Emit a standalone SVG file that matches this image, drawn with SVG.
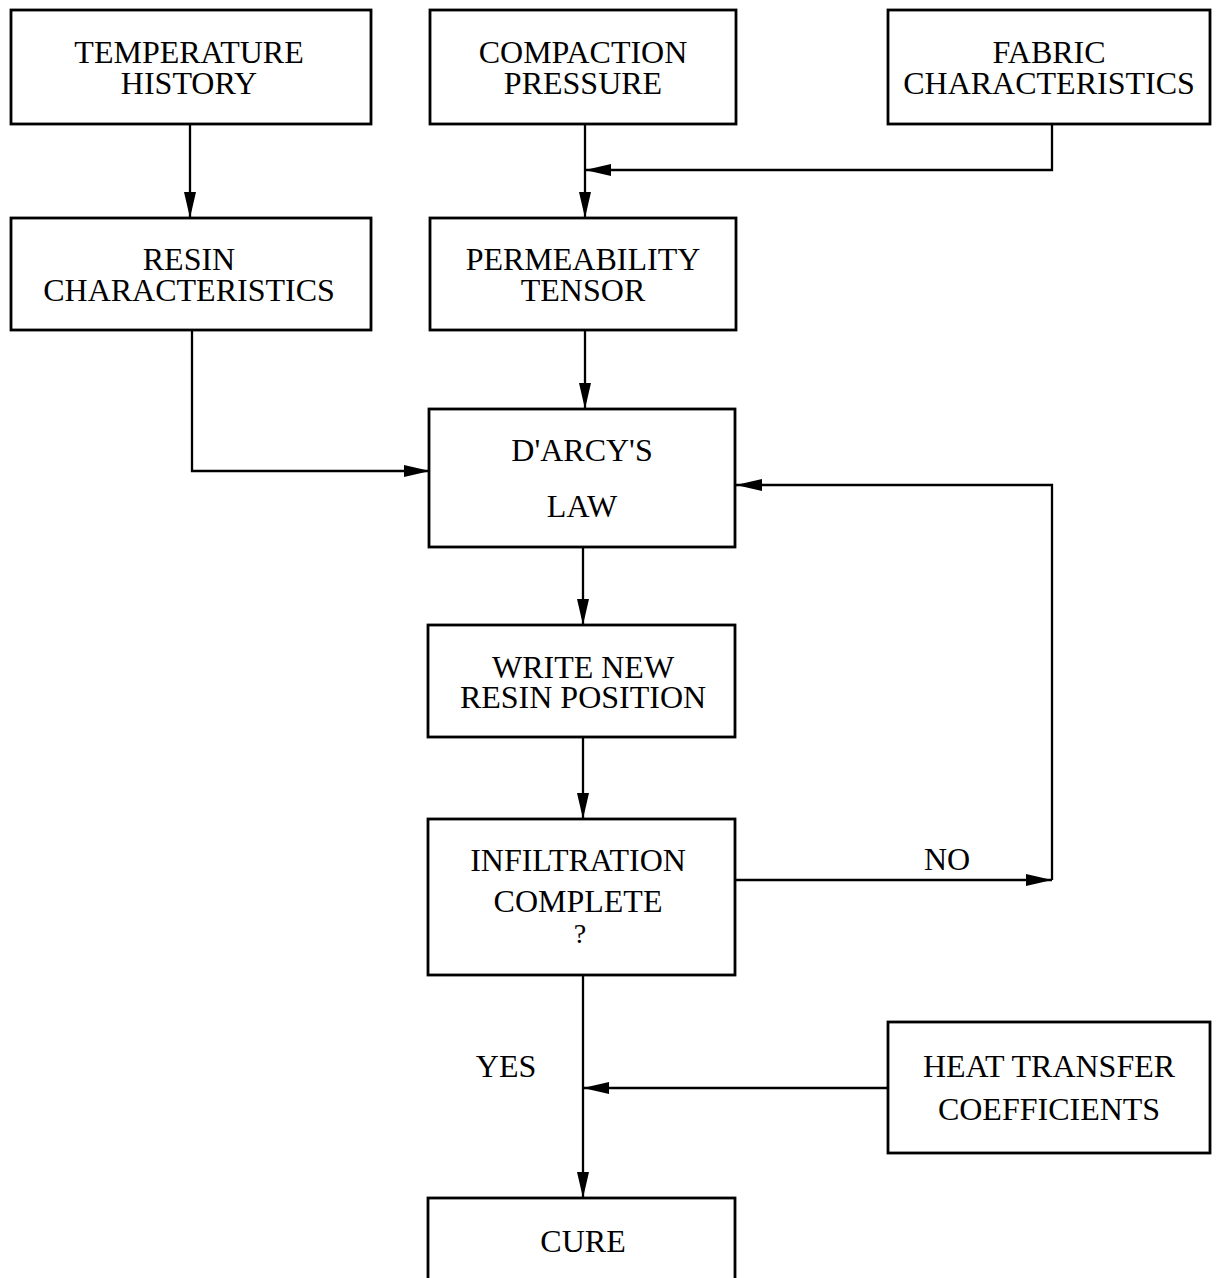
<svg xmlns="http://www.w3.org/2000/svg" width="1221" height="1278" viewBox="0 0 1221 1278">
<defs>
<style>
.box{fill:#fff;stroke:#000;stroke-width:2.8}
.t{font-family:"Liberation Serif","Times New Roman",serif;font-size:32px;fill:#000;text-anchor:middle}
.c{fill:none;stroke:#000;stroke-width:2.3}
</style>
<marker id="ah" viewBox="0 0 26 12" refX="26" refY="6" markerWidth="26" markerHeight="12" markerUnits="userSpaceOnUse" orient="auto">
<path d="M0,0 L26,6 L0,12 Z" fill="#000"/>
</marker>
</defs>
<rect width="1221" height="1278" fill="#fff"/>
<g id="connectors">
<path class="c" d="M190,124 V218" marker-end="url(#ah)"/>
<path class="c" d="M585,124 V218" marker-end="url(#ah)"/>
<path class="c" d="M1052,124 V170 H585" marker-end="url(#ah)"/>
<path class="c" d="M585,330 V409" marker-end="url(#ah)"/>
<path class="c" d="M192,330 V471 H430" marker-end="url(#ah)"/>
<path class="c" d="M583,548 V625" marker-end="url(#ah)"/>
<path class="c" d="M583,737 V819" marker-end="url(#ah)"/>
<path class="c" d="M734,880 H1052" marker-end="url(#ah)"/>
<path class="c" d="M1052,880 V485 H736" marker-end="url(#ah)"/>
<path class="c" d="M583,975 V1198" marker-end="url(#ah)"/>
<path class="c" d="M888,1088 H583" marker-end="url(#ah)"/>
<text class="t" x="947" y="870">NO</text>
<text class="t" x="506" y="1077">YES</text>
</g>
<g id="temperature-history">
<rect class="box" x="11" y="10" width="360" height="114"/>
<text class="t" x="189" y="63">TEMPERATURE<tspan x="189" dy="31">HISTORY</tspan></text>
</g>
<g id="compaction-pressure">
<rect class="box" x="430" y="10" width="306" height="114"/>
<text class="t" x="583" y="63">COMPACTION<tspan x="583" dy="31">PRESSURE</tspan></text>
</g>
<g id="fabric-characteristics">
<rect class="box" x="888" y="10" width="322" height="114"/>
<text class="t" x="1049" y="63">FABRIC<tspan x="1049" dy="31">CHARACTERISTICS</tspan></text>
</g>
<g id="resin-characteristics">
<rect class="box" x="11" y="218" width="360" height="112"/>
<text class="t" x="189" y="270">RESIN<tspan x="189" dy="31">CHARACTERISTICS</tspan></text>
</g>
<g id="permeability-tensor">
<rect class="box" x="430" y="218" width="306" height="112"/>
<text class="t" x="583" y="270">PERMEABILITY<tspan x="583" dy="31">TENSOR</tspan></text>
</g>
<g id="darcys-law">
<rect class="box" x="429" y="409" width="306" height="138"/>
<text class="t" x="582" y="461">D'ARCY'S<tspan x="582" dy="56">LAW</tspan></text>
</g>
<g id="write-new-resin-position">
<rect class="box" x="428" y="625" width="307" height="112"/>
<text class="t" x="583" y="678">WRITE NEW<tspan x="583" dy="30">RESIN POSITION</tspan></text>
</g>
<g id="infiltration-complete">
<rect class="box" x="428" y="819" width="307" height="156"/>
<text class="t" x="578" y="871">INFILTRATION<tspan x="578" dy="41">COMPLETE</tspan><tspan x="580" dy="31" style="font-size:28px">?</tspan></text>
</g>
<g id="heat-transfer-coefficients">
<rect class="box" x="888" y="1022" width="322" height="131"/>
<text class="t" x="1049" y="1077">HEAT TRANSFER<tspan x="1049" dy="43">COEFFICIENTS</tspan></text>
</g>
<g id="cure">
<rect class="box" x="428" y="1198" width="307" height="100"/>
<text class="t" x="583" y="1252">CURE</text>
</g>
</svg>
